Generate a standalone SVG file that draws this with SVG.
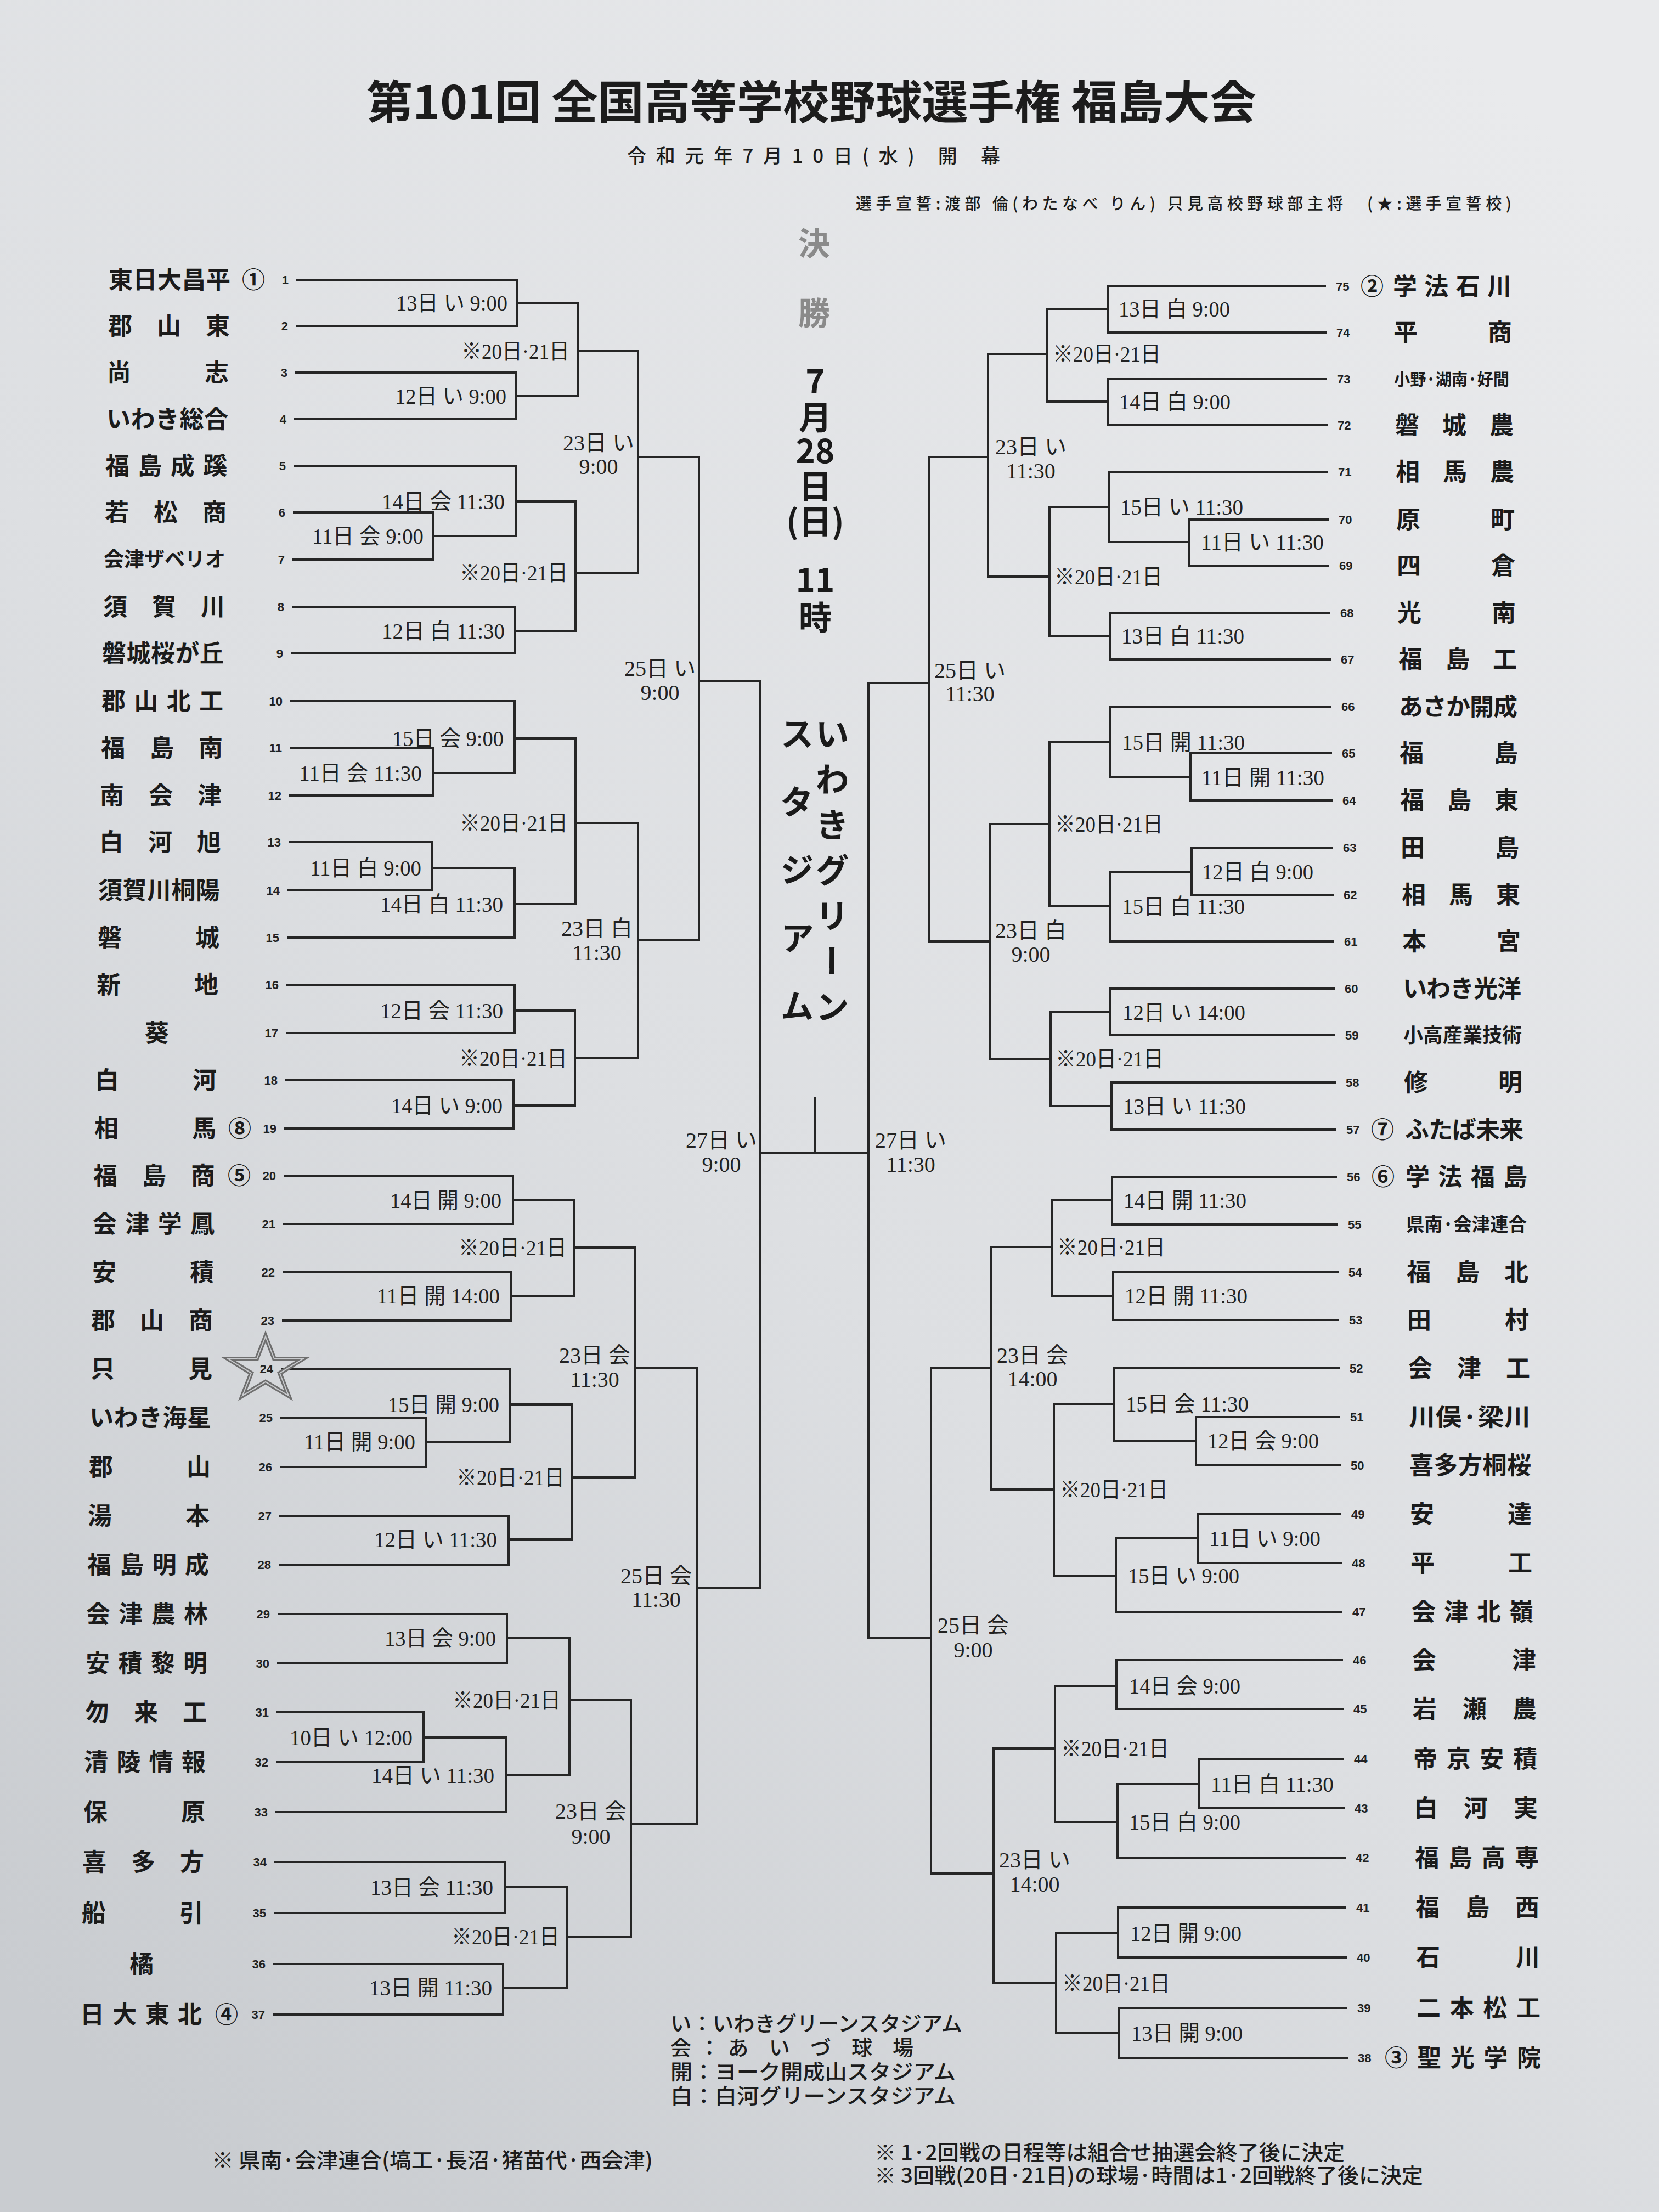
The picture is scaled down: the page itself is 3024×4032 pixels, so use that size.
<svg xmlns="http://www.w3.org/2000/svg" width="3024" height="4032" viewBox="0 0 3024 4032">
<defs>
<linearGradient id="paper" x1="0.85" y1="0" x2="0.15" y2="1">
<stop offset="0" stop-color="#e9eaec"/>
<stop offset="0.55" stop-color="#dddfe2"/>
<stop offset="1" stop-color="#c9ccd0"/>
</linearGradient>
<style>
.ln{fill:none;stroke:#262626;stroke-width:4;stroke-linejoin:miter}
.nm{font-family:"Noto Sans CJK JP","Noto Sans CJK SC",sans-serif;font-weight:700;font-size:44px;fill:#1b1b1b}
.nc{text-anchor:middle}
.cn{font-family:"Noto Sans CJK JP",sans-serif;font-weight:700;font-size:42px;fill:#1b1b1b;text-anchor:middle}
.no{font-family:"Liberation Sans",sans-serif;font-weight:700;font-size:22px;fill:#222}
.nl{text-anchor:end}
.lb{font-family:"Liberation Serif","Noto Sans CJK JP",serif;font-size:40px;fill:#222}
.le{text-anchor:end}
.lm{text-anchor:middle}
.ct{font-family:"Noto Sans CJK JP",sans-serif;font-weight:700;font-size:60px;fill:#1a1a1a;text-anchor:middle}
.gy{fill:#8a8a8a;font-size:58px}
.vt{font-family:"Noto Sans CJK JP",sans-serif;font-weight:700;font-size:62px;fill:#1a1a1a;writing-mode:vertical-rl}
.tx{font-family:"Noto Sans CJK JP",sans-serif;fill:#1c1c1c}
.md{font-weight:500}
</style>
</defs>
<rect x="0" y="0" width="3024" height="4032" fill="url(#paper)"/>

<g id="header">
<text class="tx" x="668" y="217" font-size="84" font-weight="700" textLength="1622" lengthAdjust="spacingAndGlyphs">第101回 全国高等学校野球選手権 福島大会</text>
<text class="tx md" x="1143" y="297" font-size="35" textLength="680" lengthAdjust="spacing">令和元年7月10日(水) 開 幕</text>
<text class="tx md" x="1560" y="382" font-size="29" textLength="1195" lengthAdjust="spacing">選手宣誓:渡部 倫(わたなべ りん) 只見高校野球部主将　(★:選手宣誓校)</text>
</g>

<g id="final">
<text class="ct gy"><tspan x="1484" y="465">決</tspan><tspan x="1484" y="592">勝</tspan></text>
<text class="ct"><tspan x="1486" y="717">7</tspan><tspan x="1486" y="783">月</tspan><tspan x="1486" y="844">28</tspan><tspan x="1486" y="909">日</tspan><tspan x="1486" y="973">(日)</tspan><tspan x="1486" y="1079">11</tspan><tspan x="1486" y="1148">時</tspan></text>
<text class="vt" x="1517" y="1306" style="letter-spacing:21px">いわきグリーン</text>
<text class="vt" x="1453" y="1306" style="letter-spacing:62px">スタジアム</text>
</g>

<g id="connectors">
<path class="ln" d="M540 510H943V594H539"/>
<path class="ln" d="M538 679H941V764H536"/>
<path class="ln" d="M943 552H1053V722H941"/>
<path class="ln" d="M534 934H790V1020H533"/>
<path class="ln" d="M535 849H940V977H790"/>
<path class="ln" d="M532 1106H939V1191H530"/>
<path class="ln" d="M940 914H1049V1150H939"/>
<path class="ln" d="M1053 640H1163V1044H1049"/>
<path class="ln" d="M528 1363H789V1450H527"/>
<path class="ln" d="M529 1278H938V1409H789"/>
<path class="ln" d="M526 1535H788V1623H524"/>
<path class="ln" d="M788 1582H938V1709H523"/>
<path class="ln" d="M938 1346H1049V1648H938"/>
<path class="ln" d="M522 1795H938V1883H521"/>
<path class="ln" d="M520 1969H936V2057H518"/>
<path class="ln" d="M938 1842H1048V2015H936"/>
<path class="ln" d="M1049 1500H1163V1929H1048"/>
<path class="ln" d="M1163 833H1274V1714H1163"/>
<path class="ln" d="M517 2143H935V2231H516"/>
<path class="ln" d="M515 2319H932V2407H514"/>
<path class="ln" d="M935 2188H1047V2362H932"/>
<path class="ln" d="M511 2584H776V2674H510"/>
<path class="ln" d="M512 2495H930V2628H776"/>
<path class="ln" d="M509 2763H927V2852H508"/>
<path class="ln" d="M930 2560H1042V2806H927"/>
<path class="ln" d="M1047 2274H1158V2693H1042"/>
<path class="ln" d="M506 2942H924V3032H505"/>
<path class="ln" d="M504 3121H772V3212H503"/>
<path class="ln" d="M772 3167H922V3303H502"/>
<path class="ln" d="M924 2986H1038V3236H922"/>
<path class="ln" d="M500 3394H920V3487H499"/>
<path class="ln" d="M498 3580H917V3672H497"/>
<path class="ln" d="M920 3440H1034V3623H917"/>
<path class="ln" d="M1038 3099H1150V3530H1034"/>
<path class="ln" d="M1158 2493H1270V3325H1150"/>
<path class="ln" d="M1274 1242H1386V2895H1270"/>
<path class="ln" d="M1386 2102H1583"/>
<path class="ln" d="M1485 1999V2102"/>
<path class="ln" d="M1693 1245H1583V2985H1697"/>
<path class="ln" d="M2417 522H2019V606H2418"/>
<path class="ln" d="M2419 691H2020V775H2420"/>
<path class="ln" d="M2019 563H1909V732H2020"/>
<path class="ln" d="M2422 947H2168V1031H2423"/>
<path class="ln" d="M2421 860H2021V988H2168"/>
<path class="ln" d="M2425 1117H2023V1202H2426"/>
<path class="ln" d="M2021 924H1913V1159H2023"/>
<path class="ln" d="M1909 645H1801V1051H1913"/>
<path class="ln" d="M2428 1373H2170V1459H2429"/>
<path class="ln" d="M2427 1288H2024V1417H2170"/>
<path class="ln" d="M2430 1545H2172V1631H2431"/>
<path class="ln" d="M2172 1589H2024V1716H2432"/>
<path class="ln" d="M2024 1353H1913V1652H2024"/>
<path class="ln" d="M2433 1802H2024V1887H2434"/>
<path class="ln" d="M2435 1973H2026V2059H2436"/>
<path class="ln" d="M2024 1845H1915V2016H2026"/>
<path class="ln" d="M1913 1502H1804V1930H1915"/>
<path class="ln" d="M1801 833H1693V1716H1804"/>
<path class="ln" d="M2437 2145H2027V2232H2439"/>
<path class="ln" d="M2440 2319H2029V2406H2441"/>
<path class="ln" d="M2027 2188H1917V2362H2029"/>
<path class="ln" d="M2443 2583H2180V2671H2444"/>
<path class="ln" d="M2442 2494H2031V2626H2180"/>
<path class="ln" d="M2445 2760H2183V2849H2446"/>
<path class="ln" d="M2183 2804H2034V2938H2447"/>
<path class="ln" d="M2031 2559H1921V2872H2034"/>
<path class="ln" d="M1917 2273H1807V2715H1921"/>
<path class="ln" d="M2448 3026H2035V3115H2449"/>
<path class="ln" d="M2450 3206H2186V3296H2451"/>
<path class="ln" d="M2186 3252H2037V3386H2453"/>
<path class="ln" d="M2035 3073H1923V3321H2037"/>
<path class="ln" d="M2454 3477H2038V3568H2455"/>
<path class="ln" d="M2456 3660H2039V3751H2457"/>
<path class="ln" d="M2038 3524H1925V3706H2039"/>
<path class="ln" d="M1923 3187H1811V3615H1925"/>
<path class="ln" d="M1807 2493H1697V3415H1811"/>
</g>

<g id="match-labels">
<text class="lb le" x="925" y="566" textLength="203" lengthAdjust="spacingAndGlyphs">13日 い 9:00</text>
<text class="lb le" x="923" y="736" textLength="203" lengthAdjust="spacingAndGlyphs">12日 い 9:00</text>
<text class="lb le" x="1038" y="654" textLength="197" lengthAdjust="spacingAndGlyphs">※20日·21日</text>
<text class="lb le" x="772" y="991" textLength="203" lengthAdjust="spacingAndGlyphs">11日 会 9:00</text>
<text class="lb le" x="920" y="928" textLength="224" lengthAdjust="spacingAndGlyphs">14日 会 11:30</text>
<text class="lb le" x="920" y="1164" textLength="224" lengthAdjust="spacingAndGlyphs">12日 白 11:30</text>
<text class="lb le" x="1035" y="1058" textLength="197" lengthAdjust="spacingAndGlyphs">※20日·21日</text>
<text class="lb lm"><tspan x="1091" y="821">23日 い</tspan><tspan x="1091" y="864">9:00</tspan></text>
<text class="lb le" x="769" y="1423" textLength="224" lengthAdjust="spacingAndGlyphs">11日 会 11:30</text>
<text class="lb le" x="918" y="1360" textLength="203" lengthAdjust="spacingAndGlyphs">15日 会 9:00</text>
<text class="lb le" x="768" y="1596" textLength="203" lengthAdjust="spacingAndGlyphs">11日 白 9:00</text>
<text class="lb le" x="917" y="1662" textLength="224" lengthAdjust="spacingAndGlyphs">14日 白 11:30</text>
<text class="lb le" x="1035" y="1514" textLength="197" lengthAdjust="spacingAndGlyphs">※20日·21日</text>
<text class="lb le" x="917" y="1856" textLength="224" lengthAdjust="spacingAndGlyphs">12日 会 11:30</text>
<text class="lb le" x="916" y="2029" textLength="203" lengthAdjust="spacingAndGlyphs">14日 い 9:00</text>
<text class="lb le" x="1034" y="1943" textLength="197" lengthAdjust="spacingAndGlyphs">※20日·21日</text>
<text class="lb lm"><tspan x="1088" y="1706">23日 白</tspan><tspan x="1088" y="1750">11:30</tspan></text>
<text class="lb lm"><tspan x="1203" y="1232">25日 い</tspan><tspan x="1203" y="1276">9:00</tspan></text>
<text class="lb le" x="914" y="2202" textLength="203" lengthAdjust="spacingAndGlyphs">14日 開 9:00</text>
<text class="lb le" x="911" y="2376" textLength="224" lengthAdjust="spacingAndGlyphs">11日 開 14:00</text>
<text class="lb le" x="1033" y="2288" textLength="197" lengthAdjust="spacingAndGlyphs">※20日·21日</text>
<text class="lb le" x="757" y="2642" textLength="203" lengthAdjust="spacingAndGlyphs">11日 開 9:00</text>
<text class="lb le" x="910" y="2574" textLength="203" lengthAdjust="spacingAndGlyphs">15日 開 9:00</text>
<text class="lb le" x="906" y="2820" textLength="224" lengthAdjust="spacingAndGlyphs">12日 い 11:30</text>
<text class="lb le" x="1029" y="2707" textLength="197" lengthAdjust="spacingAndGlyphs">※20日·21日</text>
<text class="lb lm"><tspan x="1084" y="2484">23日 会</tspan><tspan x="1084" y="2528">11:30</tspan></text>
<text class="lb le" x="904" y="3000" textLength="203" lengthAdjust="spacingAndGlyphs">13日 会 9:00</text>
<text class="lb le" x="752" y="3181" textLength="224" lengthAdjust="spacingAndGlyphs">10日 い 12:00</text>
<text class="lb le" x="901" y="3250" textLength="224" lengthAdjust="spacingAndGlyphs">14日 い 11:30</text>
<text class="lb le" x="1022" y="3113" textLength="197" lengthAdjust="spacingAndGlyphs">※20日·21日</text>
<text class="lb le" x="899" y="3454" textLength="224" lengthAdjust="spacingAndGlyphs">13日 会 11:30</text>
<text class="lb le" x="897" y="3637" textLength="224" lengthAdjust="spacingAndGlyphs">13日 開 11:30</text>
<text class="lb le" x="1020" y="3544" textLength="197" lengthAdjust="spacingAndGlyphs">※20日·21日</text>
<text class="lb lm"><tspan x="1077" y="3315">23日 会</tspan><tspan x="1077" y="3361">9:00</tspan></text>
<text class="lb lm"><tspan x="1196" y="2886">25日 会</tspan><tspan x="1196" y="2929">11:30</tspan></text>
<text class="lb lm"><tspan x="1315" y="2092">27日 い</tspan><tspan x="1315" y="2136">9:00</tspan></text>

<text class="lb" x="2039" y="577" textLength="203" lengthAdjust="spacingAndGlyphs">13日 白 9:00</text>
<text class="lb" x="2040" y="746" textLength="203" lengthAdjust="spacingAndGlyphs">14日 白 9:00</text>
<text class="lb" x="1919" y="659" textLength="197" lengthAdjust="spacingAndGlyphs">※20日·21日</text>
<text class="lb" x="2189" y="1002" textLength="224" lengthAdjust="spacingAndGlyphs">11日 い 11:30</text>
<text class="lb" x="2042" y="938" textLength="224" lengthAdjust="spacingAndGlyphs">15日 い 11:30</text>
<text class="lb" x="2044" y="1173" textLength="224" lengthAdjust="spacingAndGlyphs">13日 白 11:30</text>
<text class="lb" x="1922" y="1065" textLength="197" lengthAdjust="spacingAndGlyphs">※20日·21日</text>
<text class="lb lm"><tspan x="1879" y="828">23日 い</tspan><tspan x="1879" y="872">11:30</tspan></text>
<text class="lb" x="2190" y="1431" textLength="224" lengthAdjust="spacingAndGlyphs">11日 開 11:30</text>
<text class="lb" x="2045" y="1367" textLength="224" lengthAdjust="spacingAndGlyphs">15日 開 11:30</text>
<text class="lb" x="2191" y="1603" textLength="203" lengthAdjust="spacingAndGlyphs">12日 白 9:00</text>
<text class="lb" x="2045" y="1666" textLength="224" lengthAdjust="spacingAndGlyphs">15日 白 11:30</text>
<text class="lb" x="1923" y="1516" textLength="197" lengthAdjust="spacingAndGlyphs">※20日·21日</text>
<text class="lb" x="2046" y="1859" textLength="224" lengthAdjust="spacingAndGlyphs">12日 い 14:00</text>
<text class="lb" x="2047" y="2030" textLength="224" lengthAdjust="spacingAndGlyphs">13日 い 11:30</text>
<text class="lb" x="1924" y="1944" textLength="197" lengthAdjust="spacingAndGlyphs">※20日·21日</text>
<text class="lb lm"><tspan x="1879" y="1710">23日 白</tspan><tspan x="1879" y="1753">9:00</tspan></text>
<text class="lb lm"><tspan x="1768" y="1236">25日 い</tspan><tspan x="1768" y="1278">11:30</tspan></text>
<text class="lb" x="2048" y="2202" textLength="224" lengthAdjust="spacingAndGlyphs">14日 開 11:30</text>
<text class="lb" x="2050" y="2376" textLength="224" lengthAdjust="spacingAndGlyphs">12日 開 11:30</text>
<text class="lb" x="1927" y="2287" textLength="197" lengthAdjust="spacingAndGlyphs">※20日·21日</text>
<text class="lb" x="2201" y="2640" textLength="203" lengthAdjust="spacingAndGlyphs">12日 会 9:00</text>
<text class="lb" x="2052" y="2573" textLength="224" lengthAdjust="spacingAndGlyphs">15日 会 11:30</text>
<text class="lb" x="2204" y="2818" textLength="203" lengthAdjust="spacingAndGlyphs">11日 い 9:00</text>
<text class="lb" x="2056" y="2886" textLength="203" lengthAdjust="spacingAndGlyphs">15日 い 9:00</text>
<text class="lb" x="1932" y="2729" textLength="197" lengthAdjust="spacingAndGlyphs">※20日·21日</text>
<text class="lb lm"><tspan x="1882" y="2484">23日 会</tspan><tspan x="1882" y="2527">14:00</tspan></text>
<text class="lb" x="2058" y="3087" textLength="203" lengthAdjust="spacingAndGlyphs">14日 会 9:00</text>
<text class="lb" x="2207" y="3266" textLength="224" lengthAdjust="spacingAndGlyphs">11日 白 11:30</text>
<text class="lb" x="2058" y="3335" textLength="203" lengthAdjust="spacingAndGlyphs">15日 白 9:00</text>
<text class="lb" x="1934" y="3201" textLength="197" lengthAdjust="spacingAndGlyphs">※20日·21日</text>
<text class="lb" x="2060" y="3538" textLength="203" lengthAdjust="spacingAndGlyphs">12日 開 9:00</text>
<text class="lb" x="2062" y="3720" textLength="203" lengthAdjust="spacingAndGlyphs">13日 開 9:00</text>
<text class="lb" x="1936" y="3629" textLength="197" lengthAdjust="spacingAndGlyphs">※20日·21日</text>
<text class="lb lm"><tspan x="1886" y="3404">23日 い</tspan><tspan x="1886" y="3448">14:00</tspan></text>
<text class="lb lm"><tspan x="1774" y="2976">25日 会</tspan><tspan x="1774" y="3021">9:00</tspan></text>
<text class="lb lm"><tspan x="1660" y="2092">27日 い</tspan><tspan x="1660" y="2136">11:30</tspan></text>
</g>

<g id="team-01"><text class="nm" x="198" y="526" textLength="222" lengthAdjust="spacing">東日大昌平</text><text class="cn" x="462" y="525">①</text><text class="no nl" x="526" y="518">1</text></g>
<g id="team-02"><text class="nm" x="197" y="610" textLength="222" lengthAdjust="spacing">郡山東</text><text class="no nl" x="525" y="602">2</text></g>
<g id="team-03"><text class="nm" x="195" y="695" textLength="222" lengthAdjust="spacing">尚志</text><text class="no nl" x="524" y="687">3</text></g>
<g id="team-04"><text class="nm" x="194" y="780" textLength="222" lengthAdjust="spacing">いわき総合</text><text class="no nl" x="522" y="772">4</text></g>
<g id="team-05"><text class="nm" x="192" y="865" textLength="222" lengthAdjust="spacing">福島成蹊</text><text class="no nl" x="521" y="857">5</text></g>
<g id="team-06"><text class="nm" x="191" y="950" textLength="222" lengthAdjust="spacing">若松商</text><text class="no nl" x="520" y="942">6</text></g>
<g id="team-07"><text class="nm" x="189" y="1033" style="font-size:37px" textLength="222" lengthAdjust="spacing">会津ザベリオ</text><text class="no nl" x="519" y="1028">7</text></g>
<g id="team-08"><text class="nm" x="188" y="1122" textLength="222" lengthAdjust="spacing">須賀川</text><text class="no nl" x="518" y="1114">8</text></g>
<g id="team-09"><text class="nm" x="186" y="1207" textLength="222" lengthAdjust="spacing">磐城桜が丘</text><text class="no nl" x="516" y="1199">9</text></g>
<g id="team-10"><text class="nm" x="185" y="1294" textLength="222" lengthAdjust="spacing">郡山北工</text><text class="no nl" x="515" y="1286">10</text></g>
<g id="team-11"><text class="nm" x="184" y="1379" textLength="222" lengthAdjust="spacing">福島南</text><text class="no nl" x="514" y="1371">11</text></g>
<g id="team-12"><text class="nm" x="182" y="1466" textLength="222" lengthAdjust="spacing">南会津</text><text class="no nl" x="513" y="1458">12</text></g>
<g id="team-13"><text class="nm" x="181" y="1551" textLength="222" lengthAdjust="spacing">白河旭</text><text class="no nl" x="512" y="1543">13</text></g>
<g id="team-14"><text class="nm" x="179" y="1639" textLength="222" lengthAdjust="spacing">須賀川桐陽</text><text class="no nl" x="510" y="1631">14</text></g>
<g id="team-15"><text class="nm" x="178" y="1725" textLength="222" lengthAdjust="spacing">磐城</text><text class="no nl" x="509" y="1717">15</text></g>
<g id="team-16"><text class="nm" x="176" y="1811" textLength="222" lengthAdjust="spacing">新地</text><text class="no nl" x="508" y="1803">16</text></g>
<g id="team-17"><text class="nm nc" x="286" y="1899">葵</text><text class="no nl" x="507" y="1891">17</text></g>
<g id="team-18"><text class="nm" x="173" y="1985" textLength="222" lengthAdjust="spacing">白河</text><text class="no nl" x="506" y="1977">18</text></g>
<g id="team-19"><text class="nm" x="172" y="2073" textLength="222" lengthAdjust="spacing">相馬</text><text class="cn" x="437" y="2072">⑧</text><text class="no nl" x="504" y="2065">19</text></g>
<g id="team-20"><text class="nm" x="170" y="2159" textLength="222" lengthAdjust="spacing">福島商</text><text class="cn" x="436" y="2158">⑤</text><text class="no nl" x="503" y="2151">20</text></g>
<g id="team-21"><text class="nm" x="169" y="2247" textLength="222" lengthAdjust="spacing">会津学鳳</text><text class="no nl" x="502" y="2239">21</text></g>
<g id="team-22"><text class="nm" x="168" y="2335" textLength="222" lengthAdjust="spacing">安積</text><text class="no nl" x="501" y="2327">22</text></g>
<g id="team-23"><text class="nm" x="166" y="2423" textLength="222" lengthAdjust="spacing">郡山商</text><text class="no nl" x="500" y="2415">23</text></g>
<g id="team-24"><text class="nm" x="165" y="2511" textLength="222" lengthAdjust="spacing">只見</text><polygon points="484,2436 500,2477 552,2477 510,2503 526,2544 484,2519 442,2544 458,2503 416,2477 468,2477" fill="none" stroke="#6e6e6e" stroke-width="8" stroke-linejoin="miter"/><polygon points="484,2436 500,2477 552,2477 510,2503 526,2544 484,2519 442,2544 458,2503 416,2477 468,2477" fill="none" stroke="#c9cbce" stroke-width="2"/><text class="no nl" x="498" y="2503">24</text></g>
<g id="team-25"><text class="nm" x="163" y="2600" textLength="222" lengthAdjust="spacing">いわき海星</text><text class="no nl" x="497" y="2592">25</text></g>
<g id="team-26"><text class="nm" x="162" y="2690" textLength="222" lengthAdjust="spacing">郡山</text><text class="no nl" x="496" y="2682">26</text></g>
<g id="team-27"><text class="nm" x="160" y="2779" textLength="222" lengthAdjust="spacing">湯本</text><text class="no nl" x="495" y="2771">27</text></g>
<g id="team-28"><text class="nm" x="159" y="2868" textLength="222" lengthAdjust="spacing">福島明成</text><text class="no nl" x="494" y="2860">28</text></g>
<g id="team-29"><text class="nm" x="157" y="2958" textLength="222" lengthAdjust="spacing">会津農林</text><text class="no nl" x="492" y="2950">29</text></g>
<g id="team-30"><text class="nm" x="156" y="3048" textLength="222" lengthAdjust="spacing">安積黎明</text><text class="no nl" x="491" y="3040">30</text></g>
<g id="team-31"><text class="nm" x="155" y="3137" textLength="222" lengthAdjust="spacing">勿来工</text><text class="no nl" x="490" y="3129">31</text></g>
<g id="team-32"><text class="nm" x="153" y="3228" textLength="222" lengthAdjust="spacing">清陵情報</text><text class="no nl" x="489" y="3220">32</text></g>
<g id="team-33"><text class="nm" x="152" y="3319" textLength="222" lengthAdjust="spacing">保原</text><text class="no nl" x="488" y="3311">33</text></g>
<g id="team-34"><text class="nm" x="150" y="3410" textLength="222" lengthAdjust="spacing">喜多方</text><text class="no nl" x="486" y="3402">34</text></g>
<g id="team-35"><text class="nm" x="149" y="3503" textLength="222" lengthAdjust="spacing">船引</text><text class="no nl" x="485" y="3495">35</text></g>
<g id="team-36"><text class="nm nc" x="258" y="3596">橘</text><text class="no nl" x="484" y="3588">36</text></g>
<g id="team-37"><text class="nm" x="146" y="3688" textLength="222" lengthAdjust="spacing">日大東北</text><text class="cn" x="413" y="3687">④</text><text class="no nl" x="483" y="3680">37</text></g>

<g id="team-75"><text class="cn" x="2501" y="537">②</text><text class="nm" x="2539" y="538" textLength="216" lengthAdjust="spacing">学法石川</text><text class="no" x="2435" y="530">75</text></g>
<g id="team-74"><text class="nm" x="2540" y="622" textLength="216" lengthAdjust="spacing">平商</text><text class="no" x="2436" y="614">74</text></g>
<g id="team-73"><text class="nm" x="2541" y="702" style="font-size:30px" textLength="210" lengthAdjust="spacingAndGlyphs">小野·湖南·好間</text><text class="no" x="2437" y="699">73</text></g>
<g id="team-72"><text class="nm" x="2543" y="791" textLength="216" lengthAdjust="spacing">磐城農</text><text class="no" x="2438" y="783">72</text></g>
<g id="team-71"><text class="nm" x="2544" y="876" textLength="216" lengthAdjust="spacing">相馬農</text><text class="no" x="2439" y="868">71</text></g>
<g id="team-70"><text class="nm" x="2545" y="963" textLength="216" lengthAdjust="spacing">原町</text><text class="no" x="2440" y="955">70</text></g>
<g id="team-69"><text class="nm" x="2546" y="1047" textLength="216" lengthAdjust="spacing">四倉</text><text class="no" x="2441" y="1039">69</text></g>
<g id="team-68"><text class="nm" x="2547" y="1133" textLength="216" lengthAdjust="spacing">光南</text><text class="no" x="2443" y="1125">68</text></g>
<g id="team-67"><text class="nm" x="2549" y="1218" textLength="216" lengthAdjust="spacing">福島工</text><text class="no" x="2444" y="1210">67</text></g>
<g id="team-66"><text class="nm" x="2550" y="1304" textLength="216" lengthAdjust="spacing">あさか開成</text><text class="no" x="2445" y="1296">66</text></g>
<g id="team-65"><text class="nm" x="2551" y="1389" textLength="216" lengthAdjust="spacing">福島</text><text class="no" x="2446" y="1381">65</text></g>
<g id="team-64"><text class="nm" x="2552" y="1475" textLength="216" lengthAdjust="spacing">福島東</text><text class="no" x="2447" y="1467">64</text></g>
<g id="team-63"><text class="nm" x="2553" y="1561" textLength="216" lengthAdjust="spacing">田島</text><text class="no" x="2448" y="1553">63</text></g>
<g id="team-62"><text class="nm" x="2555" y="1647" textLength="216" lengthAdjust="spacing">相馬東</text><text class="no" x="2449" y="1639">62</text></g>
<g id="team-61"><text class="nm" x="2556" y="1732" textLength="216" lengthAdjust="spacing">本宮</text><text class="no" x="2450" y="1724">61</text></g>
<g id="team-60"><text class="nm" x="2557" y="1818" textLength="216" lengthAdjust="spacing">いわき光洋</text><text class="no" x="2451" y="1810">60</text></g>
<g id="team-59"><text class="nm" x="2558" y="1900" style="font-size:36px" textLength="216" lengthAdjust="spacing">小高産業技術</text><text class="no" x="2452" y="1895">59</text></g>
<g id="team-58"><text class="nm" x="2559" y="1989" textLength="216" lengthAdjust="spacing">修明</text><text class="no" x="2453" y="1981">58</text></g>
<g id="team-57"><text class="cn" x="2520" y="2074">⑦</text><text class="nm" x="2561" y="2075" textLength="216" lengthAdjust="spacing">ふたば未来</text><text class="no" x="2454" y="2067">57</text></g>
<g id="team-56"><text class="cn" x="2521" y="2160">⑥</text><text class="nm" x="2562" y="2161" textLength="222" lengthAdjust="spacing">学法福島</text><text class="no" x="2455" y="2153">56</text></g>
<g id="team-55"><text class="nm" x="2563" y="2244" style="font-size:34px" textLength="220" lengthAdjust="spacingAndGlyphs">県南·会津連合</text><text class="no" x="2457" y="2240">55</text></g>
<g id="team-54"><text class="nm" x="2564" y="2335" textLength="222" lengthAdjust="spacing">福島北</text><text class="no" x="2458" y="2327">54</text></g>
<g id="team-53"><text class="nm" x="2565" y="2422" textLength="222" lengthAdjust="spacing">田村</text><text class="no" x="2459" y="2414">53</text></g>
<g id="team-52"><text class="nm" x="2567" y="2510" textLength="222" lengthAdjust="spacing">会津工</text><text class="no" x="2460" y="2502">52</text></g>
<g id="team-51"><text class="nm" x="2568" y="2599" textLength="222" lengthAdjust="spacingAndGlyphs">川俣·梁川</text><text class="no" x="2461" y="2591">51</text></g>
<g id="team-50"><text class="nm" x="2569" y="2687" textLength="222" lengthAdjust="spacing">喜多方桐桜</text><text class="no" x="2462" y="2679">50</text></g>
<g id="team-49"><text class="nm" x="2570" y="2776" textLength="222" lengthAdjust="spacing">安達</text><text class="no" x="2463" y="2768">49</text></g>
<g id="team-48"><text class="nm" x="2571" y="2865" textLength="222" lengthAdjust="spacing">平工</text><text class="no" x="2464" y="2857">48</text></g>
<g id="team-47"><text class="nm" x="2573" y="2954" textLength="222" lengthAdjust="spacing">会津北嶺</text><text class="no" x="2465" y="2946">47</text></g>
<g id="team-46"><text class="nm" x="2574" y="3042" textLength="226" lengthAdjust="spacing">会津</text><text class="no" x="2466" y="3034">46</text></g>
<g id="team-45"><text class="nm" x="2575" y="3131" textLength="226" lengthAdjust="spacing">岩瀬農</text><text class="no" x="2467" y="3123">45</text></g>
<g id="team-44"><text class="nm" x="2576" y="3222" textLength="226" lengthAdjust="spacing">帝京安積</text><text class="no" x="2468" y="3214">44</text></g>
<g id="team-43"><text class="nm" x="2577" y="3312" textLength="226" lengthAdjust="spacing">白河実</text><text class="no" x="2469" y="3304">43</text></g>
<g id="team-42"><text class="nm" x="2579" y="3402" textLength="226" lengthAdjust="spacing">福島高専</text><text class="no" x="2471" y="3394">42</text></g>
<g id="team-41"><text class="nm" x="2580" y="3493" textLength="226" lengthAdjust="spacing">福島西</text><text class="no" x="2472" y="3485">41</text></g>
<g id="team-40"><text class="nm" x="2581" y="3584" textLength="226" lengthAdjust="spacing">石川</text><text class="no" x="2473" y="3576">40</text></g>
<g id="team-39"><text class="nm" x="2582" y="3676" textLength="226" lengthAdjust="spacing">二本松工</text><text class="no" x="2474" y="3668">39</text></g>
<g id="team-38"><text class="cn" x="2545" y="3766">③</text><text class="nm" x="2583" y="3767" textLength="226" lengthAdjust="spacing">聖光学院</text><text class="no" x="2475" y="3759">38</text></g>

<g id="legend">
<text class="tx md" x="1222" y="3702" font-size="38" textLength="532" lengthAdjust="spacingAndGlyphs">い：いわきグリーンスタジアム</text>
<text class="tx md" x="1222" y="3746" font-size="38" textLength="443" lengthAdjust="spacing">会：あ い づ 球 場</text>
<text class="tx md" x="1222" y="3790" font-size="38" textLength="520" lengthAdjust="spacingAndGlyphs">開：ヨーク開成山スタジアム</text>
<text class="tx md" x="1222" y="3834" font-size="38" textLength="520" lengthAdjust="spacingAndGlyphs">白：白河グリーンスタジアム</text>
</g>

<g id="notes">
<text class="tx md" x="386" y="3951" font-size="38" textLength="804" lengthAdjust="spacingAndGlyphs">※ 県南·会津連合(塙工·長沼·猪苗代·西会津)</text>
<text class="tx md" x="1594" y="3937" font-size="38" textLength="857" lengthAdjust="spacingAndGlyphs">※ 1·2回戦の日程等は組合せ抽選会終了後に決定</text>
<text class="tx md" x="1594" y="3979" font-size="38" textLength="1000" lengthAdjust="spacingAndGlyphs">※ 3回戦(20日·21日)の球場·時間は1·2回戦終了後に決定</text>
</g>
</svg>
